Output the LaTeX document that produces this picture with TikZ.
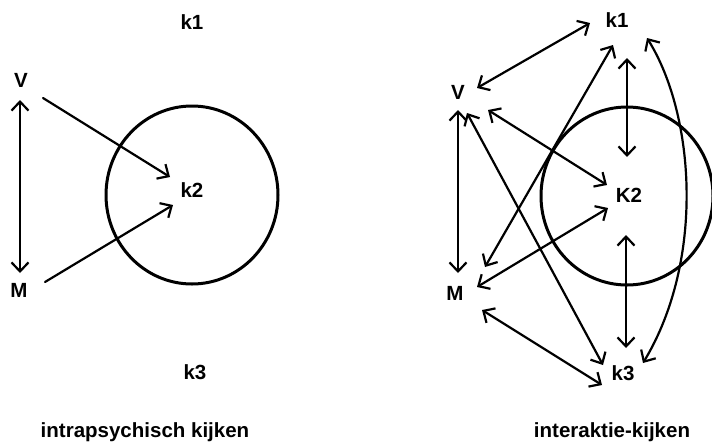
\documentclass[tikz,border=0pt]{standalone}
\usepackage{fontspec}
\setmainfont{Liberation Sans}
\usetikzlibrary{arrows.meta}

\begin{document}
\begin{tikzpicture}[x=1pt, y=-1pt,
    lab/.style={inner sep=0pt, font=\bfseries\fontsize{20.5}{25}\selectfont},
    ring/.style={line width=3pt},
    look/.style={line width=2.2pt, line cap=round, -{Straight Barb[length=9pt,width=17pt]}},
    both/.style={line width=2.2pt, line cap=round, {Straight Barb[length=9pt,width=17pt]}-{Straight Barb[length=9pt,width=17pt]}}]
  \useasboundingbox[fill=white] (0,0) rectangle (712,445);
  % left: intrapsychisch kijken
  \draw[ring] (192,195) ellipse[x radius=86, y radius=89];
  \node[lab] (k1a) at (192,22) {k1};
  \node[lab] (Va) at (21,80) {V};
  \node[lab] (k2a) at (192,190) {k2};
  \node[lab] (Ma) at (19,290) {M};
  \node[lab] (k3a) at (195,372) {k3};
  \node[lab] (capa) at (145,432) {intrapsychisch kijken};
  \draw[both] ([shift={(-1,20)}]Va.center) -- ([shift={(1,-17)}]Ma.center);
  \draw[look] ([shift={(22,18)}]Va.center) -- ([shift={(-22,-13)}]k2a.center);
  \draw[look] ([shift={(26,-8)}]Ma.center) -- ([shift={(-19,15)}]k2a.center);
  % right: interaktie-kijken
  \draw[ring] (627,196) ellipse[x radius=86, y radius=89];
  \node[lab] (k1b) at (617,20) {k1};
  \node[lab] (Vb) at (458,92) {V};
  \node[lab] (K2b) at (629,195) {K2};
  \node[lab] (Mb) at (455,293) {M};
  \node[lab] (k3b) at (623,373) {k3};
  \node[lab] (capb) at (612,432) {interaktie-kijken};
  \draw[both] ([shift={(19,-4)}]Vb.center) -- ([shift={(-27,3)}]k1b.center);
  \draw[both] ([shift={(0,18)}]Vb.center) -- ([shift={(3,-20)}]Mb.center);
  \draw[both] ([shift={(30,18)}]Vb.center) -- ([shift={(-22,-10)}]K2b.center);
  \draw[both] ([shift={(9,21)}]Vb.center) -- ([shift={(-20,-8)}]k3b.center);
  \draw[both] ([shift={(30,-26)}]Mb.center) -- ([shift={(-4,25)}]k1b.center);
  \draw[both] ([shift={(22,-6)}]Mb.center) -- ([shift={(-21,13)}]K2b.center);
  \draw[both] ([shift={(27,17)}]Mb.center) -- ([shift={(-21,12)}]k3b.center);
  \draw[both] ([shift={(10,38)}]k1b.center) -- ([shift={(-2,-38)}]K2b.center);
  \draw[both] ([shift={(-3,40)}]K2b.center) -- ([shift={(3,-25)}]k3b.center);
  % the long bow from k1 round to k3
  \draw[both] ([shift={(30,18)}]k1b.center) .. controls (695,115) and (705,260) .. ([shift={(20,-10)}]k3b.center);
\end{tikzpicture}
\end{document}
